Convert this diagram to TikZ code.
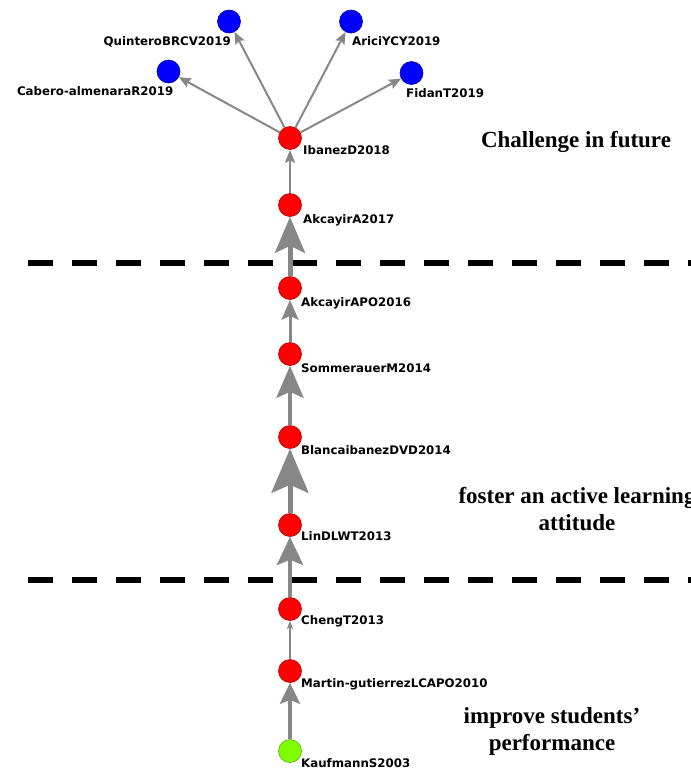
\documentclass[tikz,border=0pt]{standalone}
\usepackage{fontspec}
\newfontfamily\tagfont{DejaVu Sans}
\newfontfamily\themefont{Liberation Serif}
\usetikzlibrary{arrows.meta,calc}
\definecolor{edgegray}{RGB}{135,135,135}
\definecolor{seedgreen}{RGB}{127,255,0}

\begin{document}
\begin{tikzpicture}[x=1pt, y=-1pt,
		paper/.style={circle, draw=#1!70!black, fill=#1, line width=0.6pt,
			minimum size=23pt, inner sep=0pt},
		tag/.style={font=\tagfont\bfseries\fontsize{11.8}{14}\selectfont, inner sep=0pt},
		theme/.style={font=\themefont\bfseries\fontsize{23}{27}\selectfont,
			align=center, inner sep=0pt},
		cite/.style={draw=edgegray},
		period/.style={line width=6pt, dash pattern=on 25pt off 19pt}]
	\useasboundingbox (0,0) rectangle (691,772);
	
	% ---- period separators ----
	\coordinate (sepAl) at (28,263);  \coordinate (sepAr) at (700,263);
	\coordinate (sepBl) at (28,580);  \coordinate (sepBr) at (700,580);
	\draw[period] (sepAl) -- (sepAr);
	\draw[period] (sepBl) -- (sepBr);
	
	% ---- main path (bottom to top) ----
	\node[paper=seedgreen] (kauf)  at (290,751) {};
	\node[paper=red]       (mart)  at (290,671) {};
	\node[paper=red]       (cheng) at (290,609) {};
	\node[paper=red]       (lin)   at (290,525) {};
	\node[paper=red]       (blanca) at (290,437) {};
	\node[paper=red]       (somm)  at (290,354) {};
	\node[paper=red]       (akcB)  at (290,288) {};
	\node[paper=red]       (akcA)  at (290,205) {};
	\node[paper=red]       (ibanez) at (290,138) {};
	
	% ---- newest papers ----
	\node[paper=blue] (cabero)   at (168.5,71.5) {};
	\node[paper=blue] (quintero) at (229,21.5) {};
	\node[paper=blue] (arici)    at (351,21.5) {};
	\node[paper=blue] (fidan)    at (411.5,73) {};
	
	% ---- names ----
	\node[tag, anchor=base west] (kaufT)   at ($(kauf)+(11,16)$)   {KaufmannS2003};
	\node[tag, anchor=base west] (martT)   at ($(mart)+(11,16)$)   {Martin-gutierrezLCAPO2010};
	\node[tag, anchor=base west] (chengT)  at ($(cheng)+(11,15)$)  {ChengT2013};
	\node[tag, anchor=base west] (linT)    at ($(lin)+(11,15)$)    {LinDLWT2013};
	\node[tag, anchor=base west] (blancaT) at ($(blanca)+(11,17)$) {BlancaibanezDVD2014};
	\node[tag, anchor=base west] (sommT)   at ($(somm)+(11,18)$)   {SommerauerM2014};
	\node[tag, anchor=base west] (akcBT)   at ($(akcB)+(11,18)$)   {AkcayirAPO2016};
	\node[tag, anchor=base west] (akcAT)   at ($(akcA)+(13,18)$)   {AkcayirA2017};
	\node[tag, anchor=base west] (ibanezT) at ($(ibanez)+(13,16)$) {IbanezD2018};
	\node[tag, anchor=base east] (caberoT)   at ($(cabero)+(5,23.5)$)   {Cabero-almenaraR2019};
	\node[tag, anchor=base east] (quinteroT) at ($(quintero)+(2,23.5)$) {QuinteroBRCV2019};
	\node[tag, anchor=base west] (ariciT)    at ($(arici)+(1,23.5)$)    {AriciYCY2019};
	\node[tag, anchor=base west] (fidanT)    at ($(fidan)+(-5.5,24)$)   {FidanT2019};
	
	% ---- citation links ----
	\draw[cite, line width=4.5pt, -{Stealth[length=21pt, width=20pt, inset=4pt]}] (kauf) -- (mart);
	\draw[cite, line width=1.5pt, -{Stealth[length=8pt, width=6pt, inset=1.5pt]}] (mart) -- (cheng);
	\draw[cite, line width=4.5pt, -{Stealth[length=28pt, width=26pt, inset=5pt]}] (cheng) -- (lin);
	\draw[cite, line width=5pt, -{Stealth[length=44pt, width=37pt, inset=8pt]}] (lin) -- (blanca);
	\draw[cite, line width=4pt, -{Stealth[length=32pt, width=27pt, inset=6pt]}] (blanca) -- (somm);
	\draw[cite, line width=3pt, -{Stealth[length=20pt, width=17pt, inset=4pt]}] (somm) -- (akcB);
	\draw[cite, line width=5pt, -{Stealth[length=36pt, width=30pt, inset=7pt]}] (akcB) -- (akcA);
	\draw[cite, line width=2.5pt, -{Stealth[length=13pt, width=10pt, inset=2.5pt]}] (akcA) -- (ibanez);
	\foreach \dst in {cabero,quintero,arici,fidan}
		\draw[cite, line width=2pt, -{Stealth[length=12pt, width=10pt, inset=2pt]}] (ibanez) -- (\dst);
	
	% ---- themes ----
	\node[theme, anchor=base] (future) at (576,147) {Challenge in future};
	\node[theme] (active)  at (577,509) {foster an active learning\\attitude};
	\node[theme] (improve) at (552,731) {improve students’\\performance};
\end{tikzpicture}
\end{document}
